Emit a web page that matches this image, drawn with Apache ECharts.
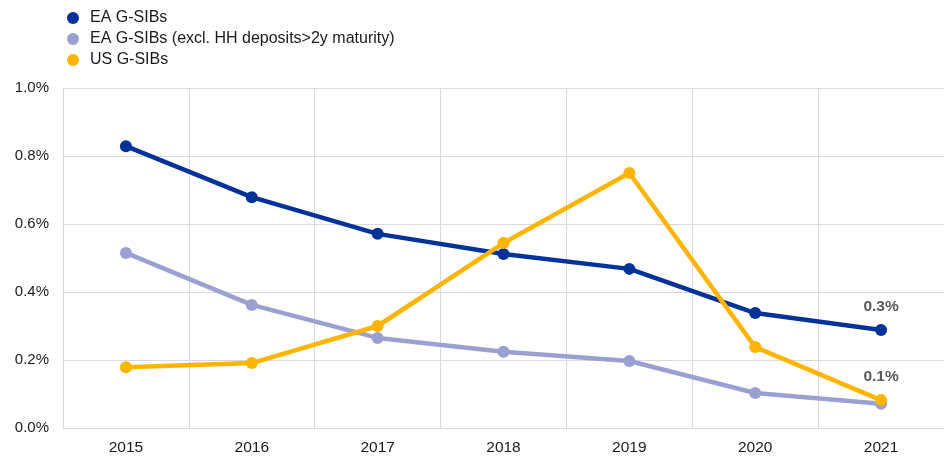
<!DOCTYPE html>
<html>
<head>
<meta charset="utf-8">
<script src="https://cdn.jsdelivr.net/npm/echarts@6/dist/echarts.min.js"></script>
<style>
	html, body { margin: 0; padding: 0; background: #fff; }
	#show { width: 944px; height: 456px; }
</style>
</head>
<body>
<div id="show"></div>
<script>
	// categories
	var years = ['2015', '2016', '2017', '2018', '2019', '2020', '2021'];

	// series values, in %
	var eaGsibs = [0.829, 0.679, 0.571, 0.512, 0.468, 0.338, 0.288];
	var eaExcl = [0.515, 0.362, 0.265, 0.224, 0.197, 0.103, 0.071];
	var usGsibs = [0.179, 0.191, 0.300, 0.544, 0.750, 0.238, 0.082];

	// end-of-line labels
	var eaEndLabel = '0.3%';
	var usEndLabel = '0.1%';

	var myEchart = echarts.init(document.getElementById('show'));

	// put a label only on the last point
	function withEndLabel(values, text) {
		return values.map(function (v, i) {
			if (i != values.length - 1 || !text) return v;
			return {
				value: v,
				label: {
					show: true,
					position: 'top',
					distance: 9,
					formatter: text,
					color: '#595959',
					fontSize: 15.5,
					fontWeight: 'bold',
					fontFamily: 'Liberation Sans, Arial, sans-serif'
				}
			};
		});
	}

	function lineSeries(name, color, values, label, z) {
		return {
			name: name,
			type: 'line',
			data: withEndLabel(values, label),
			symbol: 'circle',
			symbolSize: 12,
			z: z,
			itemStyle: { color: color },
			lineStyle: { color: color, width: 4.5 },
			emphasis: { disabled: true },
			animation: false
		};
	}

	var option = {
		textStyle: { fontFamily: 'Liberation Sans, Arial, sans-serif' },
		legend: {
			orient: 'vertical',
			left: 62,
			top: 5,
			itemGap: 5,
			icon: 'circle',
			itemWidth: 12,
			itemHeight: 12,
			textStyle: { fontSize: 16, color: '#1a1a1a', padding: [0, 0, 0, 6] },
			data: ['EA G-SIBs', 'EA G-SIBs (excl. HH deposits>2y maturity)', 'US G-SIBs']
		},
		grid: {
			left: 63,
			right: 0,
			top: 88,
			bottom: 28,
			containLabel: false
		},
		xAxis: {
			type: 'category',
			data: years,
			boundaryGap: true,
			axisLine: { lineStyle: { color: '#d9d9d9', width: 1 } },
			axisTick: { show: false },
			axisLabel: { color: '#1a1a1a', fontSize: 15.5, margin: 12 },
			splitLine: { show: true, lineStyle: { color: '#d9d9d9', width: 1 } }
		},
		yAxis: {
			type: 'value',
			min: 0,
			max: 1,
			interval: 0.2,
			axisLine: { show: true, lineStyle: { color: '#d9d9d9', width: 1 } },
			axisTick: { show: false },
			axisLabel: {
				color: '#1a1a1a',
				fontSize: 15,
				margin: 14,
				formatter: function (v) { return v.toFixed(1) + '%'; }
			},
			splitLine: { show: true, lineStyle: { color: '#d9d9d9', width: 1 } }
		},
		series: [
			lineSeries('EA G-SIBs (excl. HH deposits>2y maturity)', '#99a1d3', eaExcl, null, 2),
			lineSeries('EA G-SIBs', '#003299', eaGsibs, eaEndLabel, 3),
			lineSeries('US G-SIBs', '#ffb400', usGsibs, usEndLabel, 4)
		]
	};

	myEchart.setOption(option);
</script>
</body>
</html>
